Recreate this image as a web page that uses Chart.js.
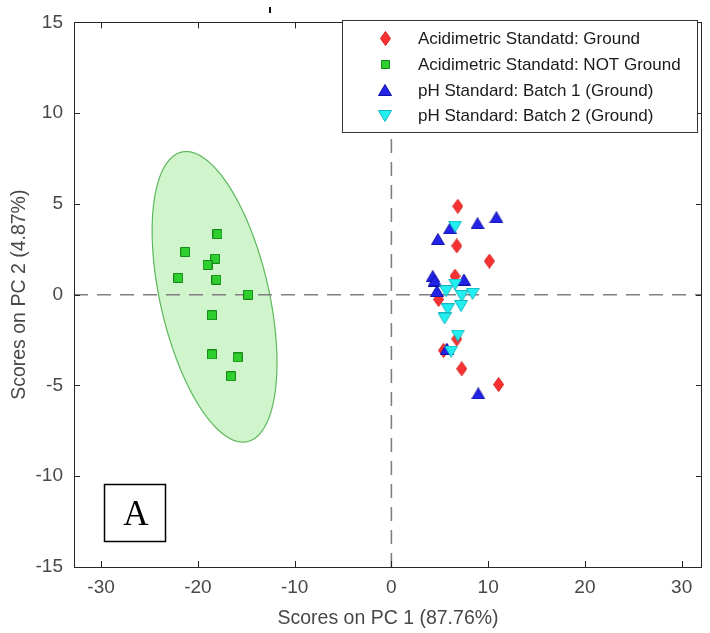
<!DOCTYPE html>
<html><head><meta charset="utf-8">
<script src="https://cdn.jsdelivr.net/npm/chart.js@4/dist/chart.umd.min.js"></script>
<style>html,body{margin:0;padding:0;background:#fff;}#wrap{width:710px;height:633px;}</style>
</head><body><div id="wrap"><canvas id="c" width="710" height="633"></canvas></div>
<script>
// ---------- data ----------
const seriesNames = [
  'Acidimetric Standatd: Ground',
  'Acidimetric Standatd: NOT Ground',
  'pH Standard: Batch 1 (Ground)',
  'pH Standard: Batch 2 (Ground)'
];
const acidGroundX = [6.86, 6.76, 10.13, 6.58, 4.88, 6.76, 5.39, 7.27, 11.08];
const acidGroundY = [4.87, 2.69, 1.85, 1.02, -0.26, -2.44, -3.07, -4.08, -4.95];
const acidNotGroundX = [-17.98, -21.32, -18.22, -19.0, -22.03, -18.08, -14.81, -18.55, -18.55, -15.89, -16.58];
const acidNotGroundY = [3.34, 2.35, 1.98, 1.64, 0.93, 0.83, 0.0, -1.13, -3.29, -3.45, -4.49];
const batch1X = [6.07, 8.9, 10.85, 4.81, 4.27, 4.47, 7.5, 4.71, 5.73, 8.98];
const batch1Y = [3.66, 3.93, 4.26, 3.06, 1.02, 0.78, 0.83, 0.2, -2.98, -5.44];
const batch2X = [6.58, 6.58, 5.66, 7.27, 8.39, 7.2, 5.83, 5.5, 6.86, 6.17];
const batch2Y = [3.75, 0.56, 0.2, -0.07, 0.05, -0.62, -0.8, -1.31, -2.25, -3.13];
const xTicks = [-30, -20, -10, 0, 10, 20, 30];
const yTicks = [-15, -10, -5, 0, 5, 10, 15];
const xRange = [-32.8, 32.1];
const yRange = [-15, 15];
const xTitle = 'Scores on PC 1 (87.76%)';
const yTitle = 'Scores on PC 2 (4.87%)';
const panelLabel = 'A';
const ellipseScale = 3.05; // confidence multiplier applied to NOT-Ground covariance

// ---------- helpers ----------
const pts = (xs, ys) => xs.map((x, i) => ({x, y: ys[i]}));

function confidenceEllipse(xs, ys, k, n) {
  const m = xs.length;
  const mx = xs.reduce((a, b) => a + b, 0) / m;
  const my = ys.reduce((a, b) => a + b, 0) / m;
  let sxx = 0, syy = 0, sxy = 0;
  for (let i = 0; i < m; i++) {
    sxx += (xs[i] - mx) ** 2; syy += (ys[i] - my) ** 2; sxy += (xs[i] - mx) * (ys[i] - my);
  }
  sxx /= (m - 1); syy /= (m - 1); sxy /= (m - 1);
  const l11 = Math.sqrt(sxx), l21 = sxy / l11, l22 = Math.sqrt(syy - l21 * l21);
  const out = [];
  for (let i = 0; i <= n; i++) {
    const t = 2 * Math.PI * i / n;
    const c = Math.cos(t), s = Math.sin(t);
    out.push({x: mx + k * l11 * c, y: my + k * (l21 * c + l22 * s)});
  }
  return out;
}

function marker(shape, w, h, fill, stroke) {
  const cv = document.createElement('canvas');
  cv.width = w; cv.height = h;
  const g = cv.getContext('2d');
  g.beginPath();
  if (shape === 'diamond') {
    g.moveTo(w / 2, 0.5); g.lineTo(w - 0.5, h / 2); g.lineTo(w / 2, h - 0.5); g.lineTo(0.5, h / 2);
  } else if (shape === 'square') {
    g.rect(0.5, 0.5, w - 1, h - 1);
  } else if (shape === 'up') {
    g.moveTo(w / 2, 0.5); g.lineTo(w - 0.5, h - 0.5); g.lineTo(0.5, h - 0.5);
  } else {
    g.moveTo(0.5, 0.5); g.lineTo(w - 0.5, 0.5); g.lineTo(w / 2, h - 0.5);
  }
  g.closePath();
  g.fillStyle = fill; g.fill();
  g.lineWidth = 1; g.strokeStyle = stroke; g.stroke();
  return cv;
}

const mRed = marker('diamond', 11, 15, '#f83232', '#d81e1e');
const mGreen = marker('square', 10, 10, '#2ecf2e', '#16881a');
const mBlue = marker('up', 14, 12, '#2323e8', '#1010a8');
const mCyan = marker('down', 14, 12, '#22f0f0', '#14b4c0');
const legendMarkers = [mRed, marker('square', 9, 9, '#2ecf2e', '#16881a'), mBlue, mCyan];

const axisColor = '#484848';
const fontFam = '"Liberation Sans", Arial, sans-serif';

const framePlugin = {
  id: 'frame',
  afterDatasetsDraw(chart) {
    const {ctx, chartArea: a, scales: {x, y}} = chart;
    ctx.save();
    ctx.strokeStyle = '#262626'; ctx.lineWidth = 1;
    ctx.beginPath();
    ctx.rect(Math.round(a.left) + 0.5, Math.round(a.top) + 0.5, Math.round(a.right - a.left) - 1, Math.round(a.bottom - a.top));
    ctx.stroke();
    const tl = 6;
    ctx.beginPath();
    xTicks.forEach(v => {
      const px = Math.round(x.getPixelForValue(v)) + 0.5;
      ctx.moveTo(px, a.bottom); ctx.lineTo(px, a.bottom - tl);
      ctx.moveTo(px, a.top); ctx.lineTo(px, a.top + tl);
    });
    yTicks.forEach(v => {
      const py = Math.round(y.getPixelForValue(v)) + 0.5;
      ctx.moveTo(a.left, py); ctx.lineTo(a.left + tl, py);
      ctx.moveTo(a.right, py); ctx.lineTo(a.right - tl, py);
    });
    ctx.stroke();
    ctx.restore();
  },
  afterDraw(chart) {
    const {ctx} = chart;
    ctx.save();
    // stray mark above the axes
    ctx.fillStyle = '#111';
    ctx.fillRect(269, 7, 2, 6);
    // legend box
    const lx = 342, ly = 20, lw = 355, lh = 112;
    ctx.fillStyle = '#fff';
    ctx.fillRect(lx, ly, lw, lh);
    ctx.strokeStyle = '#333'; ctx.lineWidth = 1;
    ctx.strokeRect(lx + 0.5, ly + 0.5, lw, lh);
    ctx.font = '17px ' + fontFam;
    ctx.fillStyle = '#1a1a1a';
    ctx.textBaseline = 'middle'; ctx.textAlign = 'left';
    const rows = [38.5, 64.5, 90, 115.5];
    seriesNames.forEach((name, i) => {
      const m = legendMarkers[i];
      ctx.drawImage(m, Math.round(385 - m.width / 2), Math.round(rows[i] - m.height / 2));
      ctx.fillText(name, 418, rows[i] + 1);
    });
    // panel label box
    ctx.fillStyle = '#fff';
    ctx.fillRect(104, 484, 62, 58);
    ctx.strokeStyle = '#000'; ctx.lineWidth = 1.5;
    ctx.strokeRect(104.5, 484.5, 61, 57);
    ctx.fillStyle = '#000';
    ctx.font = '35px "Liberation Serif", "Times New Roman", serif';
    ctx.textAlign = 'center'; ctx.textBaseline = 'middle';
    ctx.fillText(panelLabel, 136, 516);
    ctx.restore();
  }
};

const dashStyle = {borderColor: '#7f7f7f', borderWidth: 1.6, borderDash: [14, 9], pointRadius: 0, showLine: true, fill: false};

new Chart(document.getElementById('c'), {
  type: 'scatter',
  data: {
    datasets: [
      {label: seriesNames[3], data: pts(batch2X, batch2Y), pointStyle: mCyan, pointRadius: 7, order: 1},
      {label: seriesNames[2], data: pts(batch1X, batch1Y), pointStyle: mBlue, pointRadius: 7, order: 2},
      {label: seriesNames[1], data: pts(acidNotGroundX, acidNotGroundY), pointStyle: mGreen, pointRadius: 6, order: 3},
      {label: seriesNames[0], data: pts(acidGroundX, acidGroundY), pointStyle: mRed, pointRadius: 7, order: 4},
      Object.assign({label: 'zeroH', data: [{x: xRange[0], y: 0}, {x: xRange[1], y: 0}], order: 5}, dashStyle),
      Object.assign({label: 'zeroV', data: [{x: 0, y: yRange[0]}, {x: 0, y: yRange[1]}], order: 5}, dashStyle),
      {label: 'ellipse', data: confidenceEllipse(acidNotGroundX, acidNotGroundY, ellipseScale, 180),
        showLine: true, fill: 'shape', backgroundColor: 'rgba(200,242,195,0.85)', borderColor: '#5cb85c',
        borderWidth: 1.2, pointRadius: 0, tension: 0.0001, order: 6}
    ]
  },
  options: {
    responsive: false,
    devicePixelRatio: 1,
    animation: false,
    events: [],
    layout: {padding: {top: 17, right: 2, left: 0, bottom: 0}},
    plugins: {legend: {display: false}, tooltip: {enabled: false}},
    scales: {
      x: {
        type: 'linear', min: xRange[0], max: xRange[1],
        grid: {display: false, drawTicks: false}, border: {display: false},
        afterBuildTicks: s => { s.ticks = xTicks.map(v => ({value: v})); },
        afterFit: s => { s.height = 66; },
        ticks: {padding: 9, color: axisColor, font: {family: fontFam, size: 19}, maxRotation: 0},
        title: {display: true, text: xTitle, color: axisColor, font: {family: fontFam, size: 19.5}, padding: {top: 0, bottom: 3}}
      },
      y: {
        type: 'linear', min: yRange[0], max: yRange[1],
        grid: {display: false, drawTicks: false}, border: {display: false},
        afterBuildTicks: s => { s.ticks = yTicks.map(v => ({value: v})); },
        afterFit: s => { s.width = 74; },
        ticks: {padding: 11, color: axisColor, font: {family: fontFam, size: 19}},
        title: {display: true, text: yTitle, color: axisColor, font: {family: fontFam, size: 19.5}, padding: {top: 8, bottom: 0}}
      }
    }
  },
  plugins: [framePlugin]
});
</script>
</body></html>
